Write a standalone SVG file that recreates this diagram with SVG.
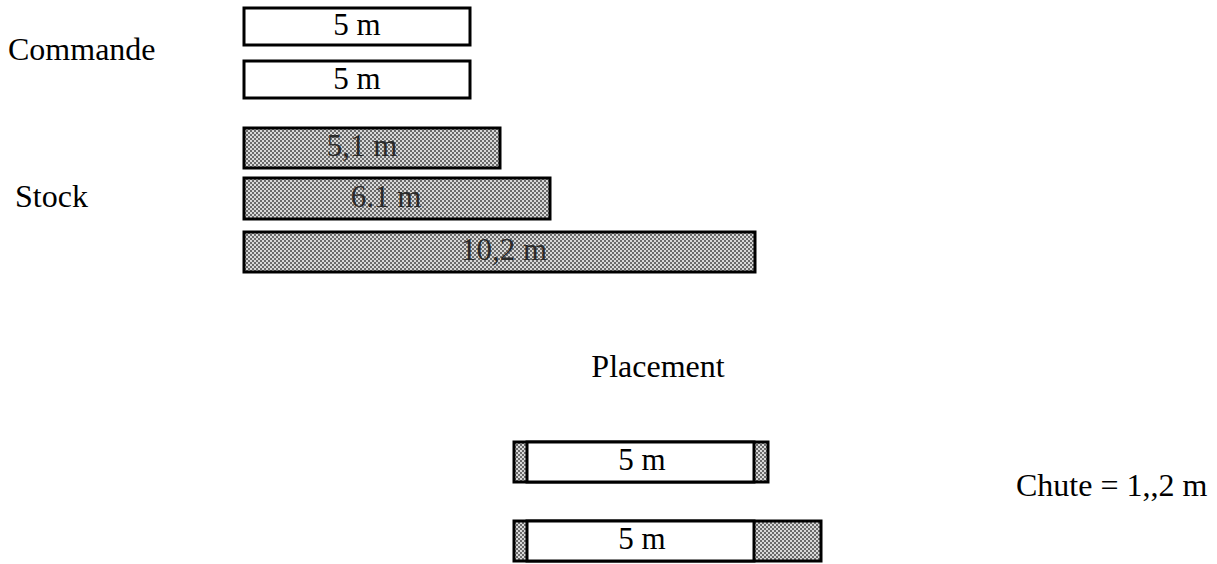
<svg xmlns="http://www.w3.org/2000/svg" width="1217" height="564" viewBox="0 0 1217 564">
<defs>
<pattern id="chk" width="4" height="4" patternUnits="userSpaceOnUse">
<rect width="4" height="4" fill="#d8d8d8"/>
<rect width="2" height="2" fill="#6a6a6a"/>
<rect x="2" y="2" width="2" height="2" fill="#6a6a6a"/>
</pattern>
</defs>
<style>
text{font-family:"Liberation Serif","Times New Roman",serif;font-size:32px;fill:#000}
.b{font-size:31px;text-anchor:middle}
.c{text-anchor:middle}
.w{fill:#fff;stroke:#000;stroke-width:3}
.s{fill:url(#chk);stroke:#000;stroke-width:3}
.st{fill:#2a2a2a}
</style>
<rect width="1217" height="564" fill="#fff"/>
<g id="labels">
<text x="8" y="60">Commande</text>
<text x="15" y="207">Stock</text>
<text x="658" y="377" class="c">Placement</text>
<text x="1016" y="496">Chute = 1,,2 m</text>
</g>
<g id="cmd1"><rect class="w" x="244" y="8" width="226" height="37"/><text class="b" x="357" y="35">5 m</text></g>
<g id="cmd2"><rect class="w" x="244" y="61" width="226" height="37"/><text class="b" x="357" y="89">5 m</text></g>
<g id="stk1"><rect class="s" x="244" y="128" width="256" height="40"/><text class="b st" x="362" y="156">5,1 m</text></g>
<g id="stk2"><rect class="s" x="244" y="178" width="306" height="41"/><text class="b st" x="386" y="207">6.1 m</text></g>
<g id="stk3"><rect class="s" x="244" y="232" width="511" height="40"/><text class="b st" x="504" y="260">10,2 m</text></g>
<g id="pl1">
<rect class="s" x="514" y="442" width="254" height="40"/>
<rect class="w" x="527" y="442" width="227" height="40"/>
<text class="b" x="642" y="470">5 m</text>
</g>
<g id="pl2">
<rect class="s" x="514" y="521" width="307" height="40"/>
<rect class="w" x="527" y="521" width="227" height="40"/>
<text class="b" x="642" y="549">5 m</text>
</g>
</svg>
